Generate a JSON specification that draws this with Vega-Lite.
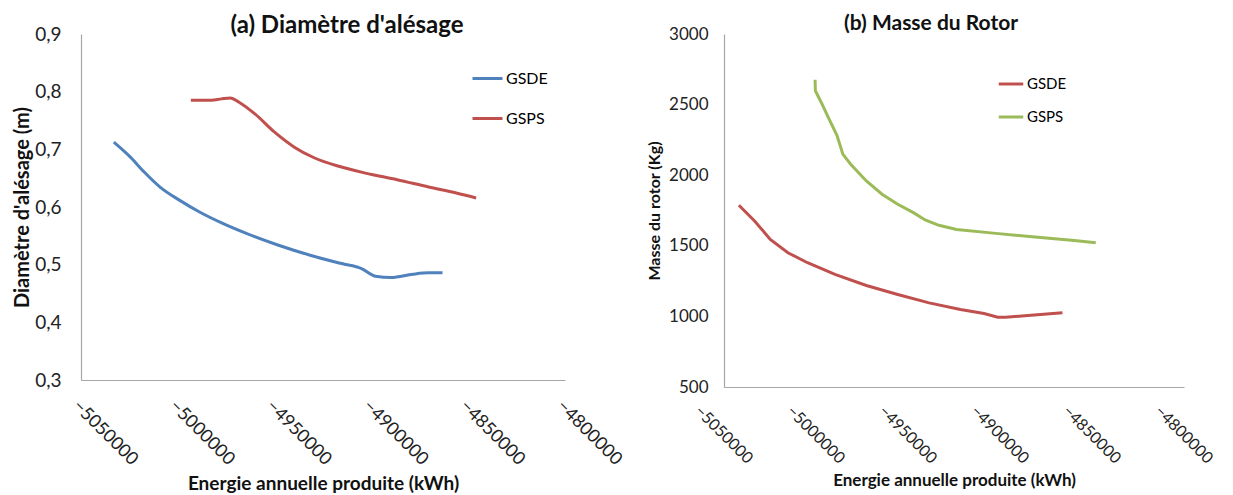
{
  "$schema": "https://vega.github.io/schema/vega-lite/v6.json",
  "background": "white",
  "padding": {"left": 12, "top": 13, "right": 0, "bottom": 0},
  "spacing": 21,
  "config": {
    "view": {"stroke": null},
    "font": "Lato",
    "axis": {"domainColor": "#A6A6A6", "domainWidth": 1.2, "ticks": false, "grid": false, "labelFont": "Lato", "titleFont": "Lato", "labelColor": "#222", "titleColor": "#111"},
    "legend": {"labelFont": "Lato"}
  },
  "datasets": {
    "diam": [
      {"energie": -5033060, "valeur": 0.7125, "serie": "GSDE"},
      {"energie": -5024490, "valeur": 0.6865, "serie": "GSDE"},
      {"energie": -5017350, "valeur": 0.6606, "serie": "GSDE"},
      {"energie": -5009180, "valeur": 0.6346, "serie": "GSDE"},
      {"energie": -4998980, "valeur": 0.6115, "serie": "GSDE"},
      {"energie": -4988780, "valeur": 0.5913, "serie": "GSDE"},
      {"energie": -4976530, "valeur": 0.5711, "serie": "GSDE"},
      {"energie": -4964290, "valeur": 0.5538, "serie": "GSDE"},
      {"energie": -4947960, "valeur": 0.5336, "serie": "GSDE"},
      {"energie": -4931630, "valeur": 0.5163, "serie": "GSDE"},
      {"energie": -4915310, "valeur": 0.5019, "serie": "GSDE"},
      {"energie": -4905100, "valeur": 0.4933, "serie": "GSDE"},
      {"energie": -4897960, "valeur": 0.4800, "serie": "GSDE"},
      {"energie": -4889800, "valeur": 0.4777, "serie": "GSDE"},
      {"energie": -4878570, "valeur": 0.4835, "serie": "GSDE"},
      {"energie": -4870410, "valeur": 0.4858, "serie": "GSDE"},
      {"energie": -4863270, "valeur": 0.4858, "serie": "GSDE"},
      {"energie": -4993265, "valeur": 0.7852, "serie": "GSPS"},
      {"energie": -4982650, "valeur": 0.7852, "serie": "GSPS"},
      {"energie": -4977550, "valeur": 0.7875, "serie": "GSPS"},
      {"energie": -4972860, "valeur": 0.7892, "serie": "GSPS"},
      {"energie": -4968370, "valeur": 0.7817, "serie": "GSPS"},
      {"energie": -4960200, "valeur": 0.7615, "serie": "GSPS"},
      {"energie": -4950000, "valeur": 0.7298, "serie": "GSPS"},
      {"energie": -4939800, "valeur": 0.7038, "serie": "GSPS"},
      {"energie": -4929590, "valeur": 0.6854, "serie": "GSPS"},
      {"energie": -4917350, "valeur": 0.6710, "serie": "GSPS"},
      {"energie": -4903060, "valeur": 0.6588, "serie": "GSPS"},
      {"energie": -4886730, "valeur": 0.6473, "serie": "GSPS"},
      {"energie": -4870410, "valeur": 0.6346, "serie": "GSPS"},
      {"energie": -4856120, "valeur": 0.6242, "serie": "GSPS"},
      {"energie": -4845920, "valeur": 0.6156, "serie": "GSPS"}
    ],
    "masse": [
      {"energie": -5041900, "valeur": 1787, "serie": "GSDE"},
      {"energie": -5033380, "valeur": 1676, "serie": "GSDE"},
      {"energie": -5024850, "valeur": 1545, "serie": "GSDE"},
      {"energie": -5015260, "valeur": 1451, "serie": "GSDE"},
      {"energie": -5004600, "valeur": 1380, "serie": "GSDE"},
      {"energie": -4989680, "valeur": 1297, "serie": "GSDE"},
      {"energie": -4972630, "valeur": 1219, "serie": "GSDE"},
      {"energie": -4955580, "valeur": 1155, "serie": "GSDE"},
      {"energie": -4938530, "valeur": 1096, "serie": "GSDE"},
      {"energie": -4921480, "valeur": 1049, "serie": "GSDE"},
      {"energie": -4908690, "valeur": 1020, "serie": "GSDE"},
      {"energie": -4901230, "valeur": 994, "serie": "GSDE"},
      {"energie": -4896970, "valeur": 994, "serie": "GSDE"},
      {"energie": -4883120, "valeur": 1008, "serie": "GSDE"},
      {"energie": -4866070, "valeur": 1025, "serie": "GSDE"},
      {"energie": -5000500, "valeur": 2676, "serie": "GSPS"},
      {"energie": -5000340, "valeur": 2598, "serie": "GSPS"},
      {"energie": -4997140, "valeur": 2515, "serie": "GSPS"},
      {"energie": -4992880, "valeur": 2397, "serie": "GSPS"},
      {"energie": -4988620, "valeur": 2283, "serie": "GSPS"},
      {"energie": -4985420, "valeur": 2149, "serie": "GSPS"},
      {"energie": -4981160, "valeur": 2078, "serie": "GSPS"},
      {"energie": -4972630, "valeur": 1959, "serie": "GSPS"},
      {"energie": -4964110, "valeur": 1865, "serie": "GSPS"},
      {"energie": -4955580, "valeur": 1794, "serie": "GSPS"},
      {"energie": -4947060, "valeur": 1735, "serie": "GSPS"},
      {"energie": -4940660, "valeur": 1683, "serie": "GSPS"},
      {"energie": -4933200, "valeur": 1645, "serie": "GSPS"},
      {"energie": -4923620, "valeur": 1616, "serie": "GSPS"},
      {"energie": -4902300, "valeur": 1588, "serie": "GSPS"},
      {"energie": -4880990, "valeur": 1562, "serie": "GSPS"},
      {"energie": -4859680, "valeur": 1538, "serie": "GSPS"},
      {"energie": -4847960, "valeur": 1522, "serie": "GSPS"}
    ]
  },
  "hconcat": [
    {
      "width": 484,
      "height": 346,
      "title": {"text": "(a) Diamètre d'alésage", "fontSize": 24, "fontWeight": "bold", "font": "Lato", "dx": 24, "offset": -13, "color": "#111"},
      "data": {"name": "diam"},
      "mark": {"type": "line", "strokeWidth": 3, "interpolate": "monotone"},
      "encoding": {
        "x": {"field": "energie", "type": "quantitative", "scale": {"domain": [-5050000, -4800000], "nice": false, "zero": false},
              "axis": {"title": "Energie annuelle produite (kWh)", "values": [-5050000, -5000000, -4950000, -4900000, -4850000, -4800000], "format": "d", "labelAngle": 45, "labelAlign": "left", "labelBaseline": "middle", "labelPadding": 23, "labelOffset": -6, "labelFontSize": 18, "titleFontSize": 19, "titleFontWeight": "bold", "titlePadding": 6, "labelFlush": false, "labelOverlap": false}},
        "y": {"field": "valeur", "type": "quantitative", "scale": {"domain": [0.3, 0.9], "nice": false, "zero": false},
              "axis": {"title": "Diamètre d'alésage (m)", "values": [0.3, 0.4, 0.5, 0.6, 0.7, 0.8, 0.9], "labelExpr": "replace(format(datum.value, '.1f'), '.', ',')", "labelFontSize": 19, "labelPadding": 20, "titleFontSize": 20, "titleFontWeight": "bold", "titlePadding": 2}},
        "color": {"field": "serie", "type": "nominal", "scale": {"domain": ["GSDE", "GSPS"], "range": ["#4F81BD", "#C0504D"]},
                  "legend": {"title": null, "orient": "none", "legendX": 390, "legendY": 28, "symbolType": "stroke", "symbolSize": 900, "symbolStrokeWidth": 3, "labelFontSize": 16, "rowPadding": 15, "labelOffset": 2}}
      }
    },
    {
      "width": 460,
      "height": 353,
      "title": {"text": "(b) Masse du Rotor", "fontSize": 21, "fontWeight": "bold", "font": "Lato", "dx": -23, "offset": -9, "color": "#111"},
      "data": {"name": "masse"},
      "mark": {"type": "line", "strokeWidth": 3, "interpolate": "linear"},
      "encoding": {
        "x": {"field": "energie", "type": "quantitative", "scale": {"domain": [-5050000, -4800000], "nice": false, "zero": false},
              "axis": {"title": "Energie annuelle produite (kWh)", "values": [-5050000, -5000000, -4950000, -4900000, -4850000, -4800000], "format": "d", "labelAngle": 45, "labelAlign": "left", "labelBaseline": "middle", "labelPadding": 21, "labelOffset": -27, "labelFontSize": 16, "titleFontSize": 17, "titleFontWeight": "bold", "titlePadding": 6, "labelFlush": false, "labelOverlap": false}},
        "y": {"field": "valeur", "type": "quantitative", "scale": {"domain": [500, 3000], "nice": false, "zero": false},
              "axis": {"title": "Masse du rotor (Kg)", "values": [500, 1000, 1500, 2000, 2500, 3000], "format": "d", "labelFontSize": 17, "labelPadding": 16, "titleFontSize": 16, "titleFontWeight": "bold", "titlePadding": 6}},
        "color": {"field": "serie", "type": "nominal", "scale": {"domain": ["GSDE", "GSPS"], "range": ["#C0504D", "#9BBB59"]},
                  "legend": {"title": null, "orient": "none", "legendX": 273, "legendY": 36, "symbolType": "stroke", "symbolSize": 600, "symbolStrokeWidth": 3, "labelFontSize": 15, "rowPadding": 11, "labelOffset": 2}}
      }
    }
  ],
  "resolve": {"scale": {"color": "independent"}}
}
